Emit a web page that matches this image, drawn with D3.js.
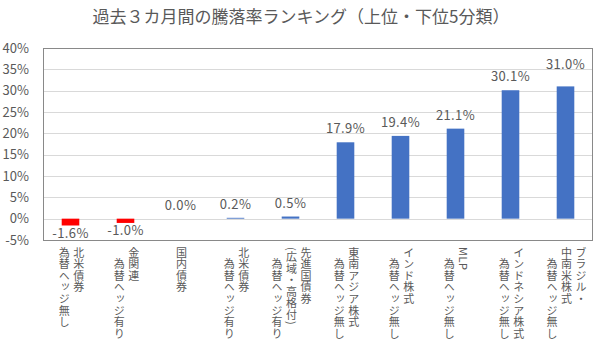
<!DOCTYPE html>
<html>
<head>
<meta charset="utf-8">
<script src="https://cdn.jsdelivr.net/npm/d3@7"></script>
<style>
  body { margin: 0; background: #fff; }
  text { font-family: "Noto Sans CJK JP", "Noto Sans", sans-serif; fill: #595959; }
</style>
</head>
<body>
<div id="chart"></div>
<script>
// 過去3カ月間の騰落率ランキング

const title = "過去３カ月間の騰落率ランキング（上位・下位5分類）";

// category labels, one entry per column (right to left, vertical writing)
const labelLines = [
  ["北米債券", "為替ヘッジ無し"],
  ["金関連", "　為替ヘッジ有り"],
  ["国内債券"],
  ["北米債券", "　為替ヘッジ有り"],
  ["先進国債券", "(広域・高格付)", "　為替ヘッジ有り"],
  ["東南アジア株式", "　為替ヘッジ無し"],
  ["インド株式", "　為替ヘッジ無し"],
  ["MLP", "　為替ヘッジ無し"],
  ["インドネシア株式", "　為替ヘッジ無し"],
  ["ブラジル・", "中南米株式", "　為替ヘッジ無し"]
];

const values = [-1.6, -1.0, 0.0, 0.2, 0.5, 17.9, 19.4, 21.1, 30.1, 31.0];

const yTicks = [-5, 0, 5, 10, 15, 20, 25, 30, 35, 40];

const width = 600, height = 354;
const margin = { top: 48, right: 7, bottom: 114, left: 43 };

const svg = d3.select("#chart")
  .append("svg")
  .attr("width", width)
  .attr("height", height)
  .attr("viewBox", [0, 0, width, height]);

const x = d3.scaleBand()
  .domain(d3.range(values.length))
  .range([margin.left, width - margin.right])
  .paddingInner(0.68)
  .paddingOuter(0.34);

const y = d3.scaleLinear()
  .domain([-5, 40])
  .range([height - margin.bottom, margin.top]);

const cx = i => x(i) + x.bandwidth() / 2;

// title
svg.append("text")
  .attr("x", 301)
  .attr("y", 23)
  .attr("text-anchor", "middle")
  .style("font-size", "17px")
  .text(title);

// gridlines
svg.append("g")
  .selectAll("line")
  .data(yTicks.slice(1, -1))
  .join("line")
  .attr("x1", margin.left)
  .attr("x2", width - margin.right)
  .attr("y1", d => Math.round(y(d)) + 0.5)
  .attr("y2", d => Math.round(y(d)) + 0.5)
  .attr("stroke", "#d9d9d9")
  .attr("stroke-width", 1);

// y axis labels
svg.append("g")
  .selectAll("text")
  .data(yTicks)
  .join("text")
  .attr("x", 29)
  .attr("y", d => y(d))
  .attr("dy", "0.35em")
  .attr("text-anchor", "end")
  .style("font-size", "13px")
  .text(d => d + "%");

// bars
svg.append("g")
  .selectAll("rect")
  .data(values)
  .join("rect")
  .attr("x", (d, i) => x(i))
  .attr("width", x.bandwidth())
  .attr("y", d => y(Math.max(0, d)))
  .attr("height", d => Math.abs(y(d) - y(0)))
  .attr("fill", d => d < 0 ? "#ff0000" : "#4472c4");

// data labels (last one was nudged up in the original)
const labelNudge = { 9: -8 };
svg.append("g")
  .selectAll("text")
  .data(values)
  .join("text")
  .attr("x", (d, i) => cx(i))
  .attr("y", (d, i) => d < 0 ? y(d) + 8 : y(d) - 13.5 + (labelNudge[i] || 0))
  .attr("dy", "0.35em")
  .attr("text-anchor", "middle")
  .style("font-size", "13px")
  .style("letter-spacing", "0.4px")
  .text(d => d.toFixed(1) + "%");

// plot frame
svg.append("rect")
  .attr("x", margin.left + 0.5)
  .attr("y", margin.top + 0.5)
  .attr("width", width - margin.left - margin.right - 1)
  .attr("height", height - margin.top - margin.bottom)
  .attr("fill", "none")
  .attr("stroke", "#898989")
  .attr("stroke-width", 1);

// vertical category labels
const colGap = 14.5;
const cat = svg.append("g")
  .selectAll("g")
  .data(labelLines)
  .join("g");

cat.selectAll("text")
  .data((lines, i) => lines.map((t, j) => ({ t, j, n: lines.length, i })))
  .join("text")
  .attr("x", d => cx(d.i) + 1 + (d.n - 1) / 2 * colGap - d.j * colGap)
  .attr("y", height - margin.bottom + 7)
  .style("writing-mode", "vertical-rl")
  .style("font-size", "11px")
  .style("letter-spacing", "0.6px")
  .text(d => d.t);
</script>
</body>
</html>
